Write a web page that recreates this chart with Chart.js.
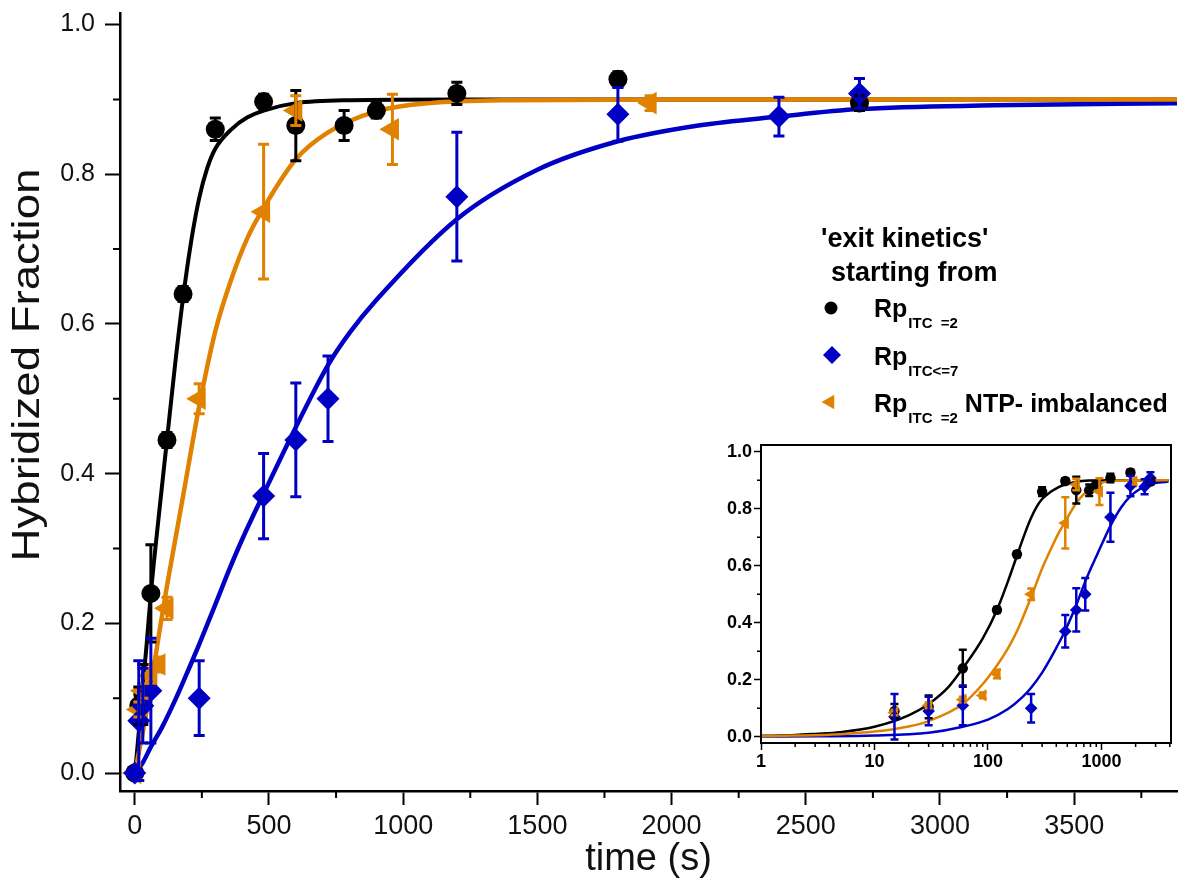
<!DOCTYPE html>
<html>
<head>
<meta charset="utf-8">
<script src="https://cdn.jsdelivr.net/npm/chart.js@4.4.1/dist/chart.umd.min.js"></script>
<style>
  html, body { margin: 0; padding: 0; background: #fff; overflow: hidden; }
  #wrap { position: relative; width: 1190px; height: 884px; }
  #mainChart { position: absolute; left: 0; top: 0; }
  #insetChart { position: absolute; left: 690px; top: 430px; }
</style>
</head>
<body>
<div id="wrap">
  <canvas id="mainChart" width="1190" height="884"></canvas>
  <canvas id="insetChart" width="500" height="370"></canvas>
</div>
<script>
// measured points (time in s, hybridized fraction, error)
const blackTime = [0, 15, 30, 60, 120, 180, 300, 480, 600, 780, 900, 1200, 1800, 2700]
const blackFrac = [0, 0.09, 0.105, 0.24, 0.445, 0.64, 0.86, 0.897, 0.865, 0.865, 0.885, 0.908, 0.927, 0.895]
const blackErr  = [0, 0.025, 0.04, 0.065, 0.01, 0.01, 0.015, 0.01, 0.047, 0.02, 0.01, 0.015, 0.01, 0.01]

const blueTime = [0, 15, 30, 60, 240, 480, 600, 720, 1200, 1800, 2400, 2700]
const blueFrac = [0, 0.07, 0.09, 0.11, 0.10, 0.37, 0.445, 0.50, 0.77, 0.88, 0.877, 0.908]
const blueErr  = [0, 0.08, 0.05, 0.07, 0.05, 0.057, 0.076, 0.057, 0.086, 0.036, 0.026, 0.02]

const orangeTime = [0, 15, 30, 60, 90, 120, 240, 480, 600, 960, 1920]
const orangeFrac = [0, 0.085, 0.11, 0.13, 0.145, 0.22, 0.50, 0.75, 0.885, 0.86, 0.895]
const orangeErr  = [0, 0.01, 0.01, 0.01, 0.01, 0.015, 0.02, 0.09, 0.02, 0.047, 0.01]

// fitted curves
const blackFitT = [0, 1, 2, 3, 5, 10, 20, 30, 45, 60, 90, 120, 150, 180, 210, 240, 270, 300, 360, 420, 480, 600, 800, 1200, 2000, 3900]
const blackFitY = [0, 0.003, 0.006, 0.01, 0.016, 0.035, 0.075, 0.115, 0.175, 0.24, 0.345, 0.445, 0.545, 0.635, 0.71, 0.768, 0.808, 0.834, 0.86, 0.876, 0.885, 0.895, 0.899, 0.9, 0.9, 0.9]

const orangeFitT = [0, 1, 2, 5, 10, 20, 30, 60, 90, 120, 150, 180, 240, 300, 360, 420, 480, 600, 720, 900, 1100, 1400, 2000, 3900]
const orangeFitY = [0, 0.002, 0.004, 0.009, 0.018, 0.036, 0.055, 0.115, 0.185, 0.25, 0.31, 0.37, 0.49, 0.59, 0.66, 0.715, 0.755, 0.82, 0.856, 0.884, 0.895, 0.899, 0.9, 0.9]

const blueFitT = [0, 1, 3, 10, 30, 60, 100, 150, 200, 240, 300, 350, 400, 480, 600, 720, 800, 900, 1200, 1500, 1800, 2100, 2400, 2700, 3200, 3900]
const blueFitY = [0, 0.0005, 0.0015, 0.004, 0.014, 0.035, 0.06, 0.097, 0.138, 0.172, 0.225, 0.27, 0.312, 0.373, 0.462, 0.545, 0.588, 0.632, 0.74, 0.806, 0.844, 0.865, 0.877, 0.887, 0.892, 0.895]

// tick labels
const mainXTicks = [0, 500, 1000, 1500, 2000, 2500, 3000, 3500]
const mainXMinor = [250, 750, 1250, 1750, 2250, 2750, 3250, 3750]
const mainYTicks = [0, 0.2, 0.4, 0.6, 0.8, 1.0]
const mainYMinor = [0.1, 0.3, 0.5, 0.7, 0.9]
const insetXTicks = [1, 10, 100, 1000]
const insetXMinor = [2, 3, 4, 5, 6, 7, 8, 9, 20, 30, 40, 50, 60, 70, 80, 90, 200, 300, 400, 500, 600, 700, 800, 900, 2000, 3000, 4000]
const insetYTicks = [0, 0.2, 0.4, 0.6, 0.8, 1.0]
const insetYMinor = [0.1, 0.3, 0.5, 0.7, 0.9]

const yTitle = 'Hybridized Fraction'
const xTitle = 'time (s)'
const legendTitle = ["'exit kinetics'", "starting from"]
const legendMain = ["Rp", "Rp", "Rp"]
const legendSub = ["ITC  =2", "ITC<=7", "ITC  =2"]
const legendTail = ["", "", " NTP- imbalanced"]

const BLACK = '#000000'
const BLUE = '#0000c4'
const ORANGE = '#e08200'

Chart.defaults.font.family = 'Arial, "Liberation Sans", sans-serif'
Chart.defaults.color = '#111'

function pts(ts, ys, logOnly) {
    return ts.map((t, i) => ({x: t, y: ys[i]})).filter(p => !logOnly || p.x > 0)
}
function errs(ts, es, logOnly) {
    return es.filter((e, i) => !logOnly || ts[i] > 0)
}

function drawMarker(ctx, style, x, y, r, color) {
    ctx.fillStyle = color
    ctx.beginPath()
    if (style === 'circle') {
        ctx.arc(x, y, r, 0, Math.PI * 2)
    } else if (style === 'diamond') {
        ctx.moveTo(x, y - r); ctx.lineTo(x + r, y); ctx.lineTo(x, y + r); ctx.lineTo(x - r, y)
    } else {
        ctx.moveTo(x - r, y); ctx.lineTo(x + r / 2, y - r * 0.866); ctx.lineTo(x + r / 2, y + r * 0.866)
    }
    ctx.closePath()
    ctx.fill()
}

// vertical error bars with caps
const errorBars = {
    id: 'errorBars',
    afterDatasetsDraw(chart, args, opts) {
        const ctx = chart.ctx
        const yScale = chart.scales.y
        ctx.save()
        ctx.lineWidth = opts.width
        chart.data.datasets.forEach((ds, i) => {
            if (!ds.errors) return
            const meta = chart.getDatasetMeta(i)
            ctx.strokeStyle = ds.backgroundColor
            meta.data.forEach((pt, j) => {
                const e = ds.errors[j]
                if (!e) return
                const v = ds.data[j].y
                const top = yScale.getPixelForValue(v + e)
                const bot = yScale.getPixelForValue(v - e)
                ctx.beginPath()
                ctx.moveTo(pt.x, top); ctx.lineTo(pt.x, bot)
                ctx.moveTo(pt.x - opts.cap, top); ctx.lineTo(pt.x + opts.cap, top)
                ctx.moveTo(pt.x - opts.cap, bot); ctx.lineTo(pt.x + opts.cap, bot)
                ctx.stroke()
            })
        })
        ctx.restore()
    }
}

// short minor ticks outside the axes
const minorTicks = {
    id: 'minorTicks',
    afterDraw(chart, args, opts) {
        const ctx = chart.ctx
        const {x, y} = chart.scales
        ctx.save()
        ctx.strokeStyle = '#000'
        ctx.lineWidth = opts.width
        ctx.beginPath()
        opts.x.forEach(v => {
            const px = x.getPixelForValue(v)
            if (px < x.left || px > x.right) return
            ctx.moveTo(px, x.top); ctx.lineTo(px, x.top + opts.len)
        })
        opts.y.forEach(v => {
            const py = y.getPixelForValue(v)
            ctx.moveTo(y.right, py); ctx.lineTo(y.right - opts.len, py)
        })
        ctx.stroke()
        ctx.restore()
    }
}

// y title placed where the original has it (a bit above centre)
const yTitleText = {
    id: 'yTitleText',
    afterDraw(chart) {
        const ctx = chart.ctx
        ctx.save()
        ctx.translate(29, 365)
        ctx.rotate(-Math.PI / 2)
        ctx.scale(1.2, 1)
        ctx.font = '38px Arial'
        ctx.fillStyle = '#111'
        ctx.textAlign = 'center'
        ctx.textBaseline = 'middle'
        ctx.fillText(yTitle, 0, 0)
        ctx.restore()
    }
}

const legendBlock = {
    id: 'legendBlock',
    afterDraw(chart) {
        const ctx = chart.ctx
        ctx.save()
        ctx.fillStyle = '#000'
        ctx.textBaseline = 'alphabetic'
        ctx.font = 'bold 27px Arial'
        ctx.fillText(legendTitle[0], 821, 247)
        ctx.fillText(legendTitle[1], 831, 281)
        const rows = [
            {y: 317, style: 'circle', r: 6.5, color: BLACK, mx: 831, my: 308},
            {y: 365, style: 'diamond', r: 9, color: BLUE, mx: 832, my: 355},
            {y: 412, style: 'tri', r: 8.5, color: ORANGE, mx: 830, my: 402},
        ]
        rows.forEach((row, i) => {
            drawMarker(ctx, row.style, row.mx, row.my, row.r, row.color)
            ctx.fillStyle = '#000'
            ctx.font = 'bold 25px Arial'
            ctx.fillText(legendMain[i], 874, row.y)
            let x = 874 + ctx.measureText(legendMain[i]).width + 1
            ctx.font = 'bold 15px Arial'
            ctx.fillText(legendSub[i], x, row.y + 11)
            x += ctx.measureText(legendSub[i]).width
            if (legendTail[i]) {
                ctx.font = 'bold 25px Arial'
                ctx.fillText(legendTail[i], x, row.y)
            }
        })
        ctx.restore()
    }
}

const insetFrame = {
    id: 'insetFrame',
    beforeDraw(chart) {
        const {ctx, chartArea: a} = chart
        ctx.save()
        ctx.fillStyle = '#fff'
        ctx.fillRect(a.left, a.top, a.right - a.left, a.bottom - a.top)
        ctx.restore()
    },
    afterDraw(chart) {
        const {ctx, chartArea: a} = chart
        ctx.save()
        ctx.strokeStyle = '#000'
        ctx.lineWidth = 2
        ctx.strokeRect(a.left, a.top, a.right - a.left, a.bottom - a.top)
        ctx.restore()
    }
}

function fixX(s, h) { s.height = h; s.paddingLeft = 0; s.paddingRight = 0 }
function fixY(s, w) { s.width = w; s.paddingTop = 0; s.paddingBottom = 0 }

function seriesSets(logOnly, big) {
    const s = big ? 1 : 0.55
    return [
        {data: pts(blueFitT, blueFitY, logOnly), showLine: true, borderColor: BLUE, borderWidth: big ? 4.5 : 2.5,
         pointRadius: 0, cubicInterpolationMode: 'monotone', order: 10},
        {data: pts(blackFitT, blackFitY, logOnly), showLine: true, borderColor: BLACK, borderWidth: big ? 4 : 2.5,
         pointRadius: 0, cubicInterpolationMode: 'monotone', order: 9},
        {data: pts(orangeFitT, orangeFitY, logOnly), showLine: true, borderColor: ORANGE, borderWidth: big ? 4.5 : 2.5,
         pointRadius: 0, cubicInterpolationMode: 'monotone', order: 8},
        {data: pts(blackTime, blackFrac, logOnly), errors: errs(blackTime, blackErr, logOnly),
         pointStyle: 'circle', pointRadius: 9.5 * s, backgroundColor: BLACK, borderColor: BLACK, borderWidth: 0, order: 3},
        {data: pts(orangeTime, orangeFrac, logOnly), errors: errs(orangeTime, orangeErr, logOnly),
         pointStyle: 'triangle', pointRotation: -90, pointRadius: 13 * s, backgroundColor: ORANGE, borderColor: ORANGE, borderWidth: 0, order: 2},
        {data: pts(blueTime, blueFrac, logOnly), errors: errs(blueTime, blueErr, logOnly),
         pointStyle: 'rectRot', pointRadius: 11.5 * s, backgroundColor: BLUE, borderColor: BLUE, borderWidth: 0, order: 1},
    ]
}

// main (linear) chart
new Chart(document.querySelector('#mainChart'), {
    type: 'scatter',
    data: {datasets: seriesSets(false, true)},
    plugins: [errorBars, minorTicks, yTitleText, legendBlock],
    options: {
        responsive: false,
        animation: false,
        devicePixelRatio: 1,
        layout: {padding: {top: 6, right: 0, left: 0, bottom: 0}},
        plugins: {
            legend: {display: false},
            tooltip: {enabled: false},
            errorBars: {width: 3, cap: 5.5},
            minorTicks: {x: mainXMinor, y: mainYMinor, len: 7, width: 2},
        },
        scales: {
            x: {
                type: 'linear',
                min: -55,
                max: 3883,
                afterBuildTicks: s => { s.ticks = mainXTicks.map(v => ({value: v})) },
                afterFit: s => fixX(s, 93),
                ticks: {callback: v => String(v), font: {size: 27}, color: '#111', padding: 5, maxRotation: 0, autoSkip: false},
                grid: {display: true, drawOnChartArea: false, drawTicks: true, tickLength: 14, tickWidth: 2, tickColor: '#000'},
                border: {display: true, color: '#000', width: 2.5},
                title: {display: true, text: xTitle, font: {size: 38}, color: '#111', padding: {top: 0, bottom: 2}},
            },
            y: {
                type: 'linear',
                min: -0.024,
                max: 1.0154,
                afterBuildTicks: s => { s.ticks = mainYTicks.map(v => ({value: v})) },
                afterFit: s => fixY(s, 120),
                ticks: {callback: v => v.toFixed(1), font: {size: 25}, color: '#111', padding: 10, autoSkip: false},
                grid: {display: true, drawOnChartArea: false, drawTicks: true, tickLength: 15, tickWidth: 2, tickColor: '#000'},
                border: {display: true, color: '#000', width: 2.5},
            }
        }
    }
})

// inset (log time axis)
new Chart(document.querySelector('#insetChart'), {
    type: 'scatter',
    data: {datasets: seriesSets(true, false)},
    plugins: [insetFrame, errorBars, minorTicks],
    options: {
        responsive: false,
        animation: false,
        devicePixelRatio: 1,
        layout: {padding: {top: 15, right: 19, left: 0, bottom: 0}},
        plugins: {
            legend: {display: false},
            tooltip: {enabled: false},
            errorBars: {width: 2.5, cap: 4},
            minorTicks: {x: insetXMinor, y: insetYMinor, len: 4, width: 1.5},
        },
        scales: {
            x: {
                type: 'logarithmic',
                min: 1,
                max: 4100,
                afterBuildTicks: s => { s.ticks = insetXTicks.map(v => ({value: v})) },
                afterFit: s => fixX(s, 57),
                ticks: {callback: v => String(v), font: {size: 18, weight: 'bold'}, color: '#000', padding: 1, maxRotation: 0, autoSkip: false},
                grid: {display: true, drawOnChartArea: false, drawTicks: true, tickLength: 7, tickWidth: 1.5, tickColor: '#000'},
                border: {display: true, color: '#000', width: 2},
            },
            y: {
                type: 'linear',
                min: -0.022,
                max: 1.0235,
                afterBuildTicks: s => { s.ticks = insetYTicks.map(v => ({value: v})) },
                afterFit: s => fixY(s, 71),
                ticks: {callback: v => v.toFixed(1), font: {size: 18, weight: 'bold'}, color: '#000', padding: 2, autoSkip: false},
                grid: {display: true, drawOnChartArea: false, drawTicks: true, tickLength: 7, tickWidth: 1.5, tickColor: '#000'},
                border: {display: true, color: '#000', width: 2},
            }
        }
    }
})
</script>
</body>
</html>
